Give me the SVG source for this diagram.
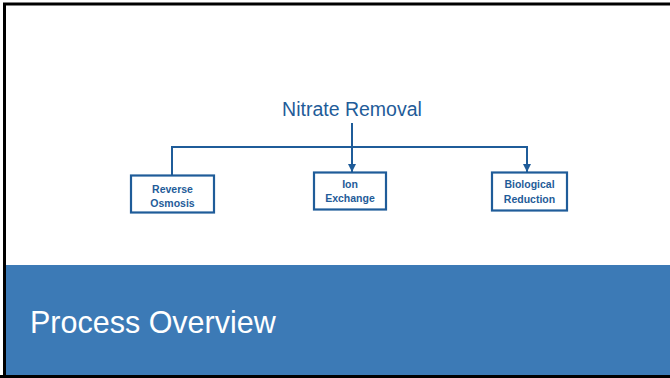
<svg xmlns="http://www.w3.org/2000/svg" width="670" height="378" viewBox="0 0 670 378">
<style>
.box{fill:#fff;stroke:#1F5C99;stroke-width:2.2}
.lbl{font-family:"Liberation Sans",Arial,sans-serif;font-weight:bold;font-size:10.5px;fill:#1F5C99;text-anchor:middle}
.con{fill:none;stroke:#1F5C99;stroke-width:2}
</style>
<defs>
<marker id="arr" viewBox="0 0 10 10" refX="10" refY="5" markerWidth="4" markerHeight="4" orient="auto" markerUnits="userSpaceOnUse" >
<path d="M0,0 L10,5 L0,10 z" fill="#1F5C99"/>
</marker>
<marker id="ah" viewBox="0 0 8 8" refX="8" refY="4" markerWidth="8" markerHeight="8" orient="auto" markerUnits="userSpaceOnUse">
<path d="M0,0 L8,4 L0,8 z" fill="#1F5C99"/>
</marker>
</defs>
<rect x="0" y="0" width="670" height="378" fill="#fff"/>
<rect x="5" y="265" width="665" height="111" fill="#3C7AB6"/>
<path d="M4.5,378 V4 H670" fill="none" stroke="#000" stroke-width="3"/>
<line x1="0" y1="376.5" x2="670" y2="376.5" stroke="#000" stroke-width="3"/>
<text x="30" y="333" font-family="'Liberation Sans',Arial,sans-serif" font-size="30.5" fill="#fff">Process Overview</text>
<g id="connectors">
<line class="con" x1="352" y1="123" x2="352" y2="172" marker-end="url(#ah)"/>
<polyline class="con" points="172,175 172,147 527,147 527,172" marker-end="url(#ah)"/>
</g>
<g id="root">
<text x="352" y="116" font-family="'Liberation Sans',Arial,sans-serif" font-size="19.5" fill="#1F5C99" text-anchor="middle">Nitrate Removal</text>
</g>
<g id="reverse-osmosis">
<rect class="box" x="131" y="175.5" width="83" height="37"/>
<text class="lbl" x="172.5" y="193">Reverse</text>
<text class="lbl" x="172.5" y="207">Osmosis</text>
</g>
<g id="ion-exchange">
<rect class="box" x="314" y="172.5" width="72" height="37"/>
<text class="lbl" x="350" y="188">Ion</text>
<text class="lbl" x="350" y="202">Exchange</text>
</g>
<g id="biological-reduction">
<rect class="box" x="492" y="172.5" width="75" height="38"/>
<text class="lbl" x="529.5" y="188">Biological</text>
<text class="lbl" x="529.5" y="203">Reduction</text>
</g>
</svg>
